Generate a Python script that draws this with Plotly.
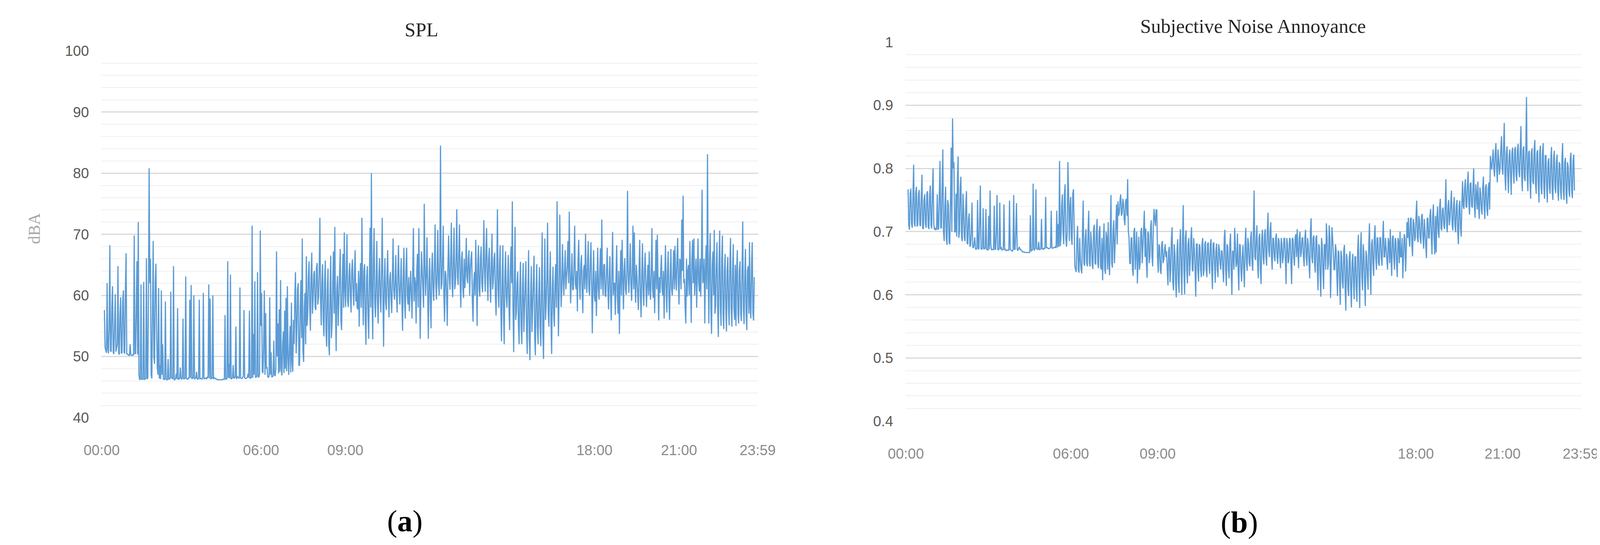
import plotly.graph_objects as go

# ---------------- data ----------------
# SPL in dBA, read every 3 minutes (hh:00, hh:03, ...) ...
spl_night = [  # 00:00 - 05:57
    57.6, 51.0, 62.0, 50.5, 68.2, 50.8, 61.5, 50.4, 60.2, 51.5, 64.8, 50.3, 59.7, 50.6, 60.8, 50.5, 66.9, 50.4, 50.2, 52.0,
    50.2, 50.3, 69.8, 50.5, 65.6, 72.0, 46.2, 61.8, 46.3, 62.2, 46.3, 66.1, 46.5, 80.8, 66.0, 46.4, 68.9, 48.8, 65.2, 48.3,
    61.2, 48.6, 60.8, 52.0, 46.3, 59.0, 46.2, 49.6, 46.3, 60.6, 46.5, 64.8, 46.2, 47.2, 57.9, 46.4, 48.2, 46.3, 56.2, 46.4,
    63.1, 46.3, 46.5, 59.3, 61.7, 46.6, 60.0, 46.4, 47.5, 46.3, 59.3, 46.4, 46.3, 60.4, 46.4, 46.5, 46.7, 61.8, 59.5, 46.5,
    60.0, 46.6, 46.4, 46.3, 46.2, 46.2, 46.2, 46.2, 46.3, 56.8, 46.3, 65.6, 48.8, 63.4, 46.4, 48.6, 46.6, 54.9, 46.8, 46.5,
    61.3, 46.4, 46.6, 57.6, 46.4, 46.5, 47.2, 57.5, 46.5, 71.4, 53.7, 62.3, 46.6, 63.8, 46.6, 70.6, 60.4, 47.3, 60.8, 57.1,
]
spl_morning = [  # 06:00 - 11:57
    48.3, 46.6, 59.7, 50.7, 46.7, 52.6, 46.8, 67.2, 55.4, 57.7, 62.5, 46.9, 54.1, 57.5, 59.6, 61.5, 47.0, 55.0, 58.8, 47.5,
    52.0, 63.8, 54.1, 62.0, 48.6, 62.5, 69.3, 49.1, 60.4, 66.4, 56.7, 65.6, 54.2, 67.0, 59.1, 64.0, 57.6, 65.3, 59.7, 72.7,
    55.1, 65.1, 53.3, 65.7, 51.6, 64.4, 50.2, 66.5, 55.4, 67.2, 71.2, 50.9, 63.2, 58.8, 67.6, 54.3, 66.8, 70.3, 58.1, 70.0,
    58.1, 65.3, 57.2, 65.9, 58.3, 67.4, 62.0, 57.7, 54.9, 65.3, 72.7, 55.1, 65.1, 51.9, 64.8, 52.9, 71.1, 80.0, 52.8, 71.0,
    56.4, 68.9, 55.4, 66.1, 57.2, 72.7, 51.6, 66.1, 57.6, 67.4, 56.4, 63.8, 57.1, 69.3, 59.3, 66.6, 57.2, 68.2, 58.5, 66.1,
    54.2, 67.8, 56.2, 67.8, 58.5, 57.4, 64.0, 56.2, 71.0, 63.0, 55.4, 66.8, 71.0, 52.9, 67.2, 60.6, 75.0, 60.0, 69.5, 52.9,
]
spl_afternoon = [  # 12:00 - 17:57
    66.1, 54.6, 67.0, 59.1, 71.6, 59.3, 70.7, 60.0, 84.5, 62.0, 71.4, 55.7, 63.5, 55.0, 69.8, 60.9, 71.9, 59.7, 71.1, 62.0,
    74.1, 61.7, 71.6, 58.0, 67.2, 59.6, 61.2, 69.4, 62.0, 67.4, 64.0, 67.2, 55.7, 63.8, 69.1, 55.0, 68.2, 59.8, 68.0, 60.5,
    72.3, 60.6, 71.0, 59.1, 67.8, 58.8, 70.1, 62.5, 67.0, 56.7, 74.1, 58.0, 68.2, 52.5, 68.2, 52.0, 67.2, 58.0, 66.6, 54.3,
    68.0, 75.4, 50.7, 71.2, 57.2, 63.9, 52.0, 65.5, 52.0, 65.3, 58.0, 65.6, 50.4, 67.4, 49.4, 64.8, 58.3, 66.5, 50.2, 65.1,
    52.0, 64.6, 51.7, 70.3, 49.6, 69.3, 58.5, 71.9, 54.9, 67.2, 50.4, 64.7, 54.9, 65.1, 75.4, 53.3, 73.2, 58.1, 68.4, 60.0,
    67.4, 63.0, 68.9, 73.7, 58.7, 66.9, 60.9, 71.4, 61.0, 57.4, 69.1, 59.3, 66.6, 57.1, 65.0, 70.1, 60.4, 68.9, 60.0, 68.7,
]
spl_evening = [  # 18:00 - 23:57
    53.8, 67.4, 59.0, 56.6, 67.8, 59.3, 67.7, 72.4, 60.0, 65.1, 59.8, 67.8, 57.7, 66.4, 55.9, 70.4, 62.0, 56.8, 68.2, 57.0,
    53.7, 67.4, 69.1, 57.7, 66.1, 60.1, 77.1, 60.4, 68.5, 59.1, 71.4, 70.3, 58.8, 63.0, 57.6, 69.1, 56.4, 68.5, 58.3, 67.0,
    58.1, 65.0, 67.2, 59.3, 71.0, 59.6, 57.1, 69.1, 69.9, 55.9, 60.4, 66.6, 60.0, 56.2, 68.2, 57.2, 67.2, 56.0, 67.6, 60.0,
    67.4, 68.1, 60.8, 69.4, 58.5, 65.6, 72.4, 76.3, 62.7, 55.4, 59.8, 65.0, 68.9, 55.5, 69.1, 69.3, 63.5, 58.0, 69.3, 60.6,
    59.8, 77.3, 62.7, 55.4, 68.2, 83.1, 55.4, 70.2, 53.7, 67.2, 70.7, 58.3, 68.7, 53.2, 70.6, 55.0, 69.8, 54.5, 66.8, 54.1,
    66.3, 55.1, 69.4, 54.9, 68.4, 56.0, 55.0, 67.4, 55.4, 65.6, 55.8, 72.1, 55.3, 67.6, 54.3, 64.8, 68.7, 56.2, 68.7, 55.9,
]
# ... and in between, at the half-way minutes (hh:01.5, hh:04.5, ...)
spl_night_half = [
    51.5, 50.6, 51.2, 55.0, 50.9, 58.0, 50.7, 56.0, 50.8, 52.0, 50.6, 57.0, 50.5, 59.0, 50.7, 61.0, 50.4, 50.3, 50.2, 50.3,
    50.2, 50.2, 50.4, 58.0, 50.3, 47.0, 46.3, 46.2, 46.3, 46.2, 46.4, 46.3, 60.0, 62.0, 47.0, 60.0, 50.0, 62.0, 55.0, 47.0,
    46.4, 46.3, 47.0, 46.3, 46.2, 46.3, 46.2, 46.3, 46.4, 46.5, 46.3, 46.2, 46.4, 46.3, 46.2, 46.3, 46.5, 46.4, 46.3, 46.4,
    46.4, 46.3, 46.4, 46.5, 46.3, 46.4, 46.3, 46.5, 46.3, 46.4, 46.3, 46.4, 46.5, 46.3, 46.4, 46.3, 46.5, 46.4, 46.3, 46.4,
    46.3, 46.4, 46.3, 46.2, 46.2, 46.2, 46.2, 46.3, 46.2, 46.3, 46.4, 46.5, 46.4, 46.3, 46.5, 46.4, 46.5, 46.3, 46.6, 46.4,
    46.5, 46.4, 46.7, 46.5, 46.4, 46.6, 46.5, 46.4, 46.6, 46.5, 47.0, 46.6, 46.8, 46.7, 47.2, 55.0, 47.5, 52.0, 47.0, 48.0,
]
spl_morning_half = [
    46.7, 46.8, 47.0, 46.7, 46.8, 47.0, 48.0, 50.0, 47.2, 47.5, 48.0, 52.0, 47.3, 48.0, 47.6, 50.0, 52.0, 47.4, 49.0, 56.0,
    60.0, 50.5, 61.0, 48.5, 58.0, 53.0, 51.0, 58.0, 52.0, 55.0, 63.0, 58.0, 63.0, 57.0, 63.5, 58.0, 64.5, 58.5, 64.0, 59.5,
    62.0, 56.0, 62.5, 54.0, 61.0, 52.0, 60.5, 53.0, 62.0, 57.0, 58.0, 61.0, 55.0, 63.0, 56.0, 62.0, 58.0, 61.0, 64.0, 59.0,
    63.0, 60.0, 64.0, 61.0, 63.5, 59.0, 58.0, 64.0, 62.0, 58.0, 62.0, 64.0, 56.0, 63.0, 57.0, 62.0, 58.0, 60.0, 66.0, 59.0,
    62.0, 59.0, 63.0, 60.0, 64.0, 60.0, 62.0, 59.0, 63.0, 60.0, 62.5, 59.5, 63.0, 61.0, 62.0, 60.0, 63.5, 61.0, 62.0, 59.0,
    63.0, 59.0, 64.0, 60.0, 63.0, 61.0, 60.0, 64.0, 59.0, 62.0, 64.0, 58.0, 63.0, 60.0, 64.0, 58.0, 65.0, 63.0, 60.0, 62.0,
]
spl_afternoon_half = [
    59.0, 64.0, 61.0, 65.0, 62.0, 64.0, 62.0, 66.0, 61.0, 66.0, 60.0, 64.0, 60.0, 65.0, 63.0, 66.0, 62.0, 66.0, 61.0, 66.0,
    63.0, 67.0, 62.0, 66.0, 61.0, 66.0, 64.0, 63.0, 66.0, 60.0, 66.0, 59.0, 62.0, 60.0, 63.0, 65.0, 61.0, 66.0, 62.0, 65.0,
    64.0, 67.0, 63.0, 66.0, 62.0, 65.0, 61.0, 66.0, 60.0, 64.0, 61.0, 65.0, 58.0, 62.0, 57.0, 63.0, 60.0, 62.0, 58.0, 64.0,
    62.0, 58.0, 62.0, 56.0, 62.0, 55.0, 61.0, 55.0, 61.0, 54.0, 62.0, 54.0, 60.0, 53.0, 60.0, 54.0, 61.0, 53.0, 60.0, 55.0,
    60.0, 55.0, 61.0, 54.0, 60.0, 56.0, 63.0, 57.0, 62.0, 56.0, 61.0, 57.0, 62.0, 58.0, 63.0, 60.0, 64.0, 61.0, 63.0, 64.0,
    61.0, 65.0, 62.0, 64.0, 63.0, 61.0, 65.0, 62.0, 64.0, 66.0, 62.0, 65.0, 61.0, 64.0, 61.0, 63.0, 65.0, 61.0, 65.0, 62.0,
]
spl_evening_half = [
    62.0, 60.0, 64.0, 62.0, 61.0, 64.0, 61.0, 63.0, 65.0, 60.0, 64.0, 61.0, 63.0, 60.0, 64.0, 60.0, 62.0, 63.0, 60.0, 64.0,
    62.0, 60.0, 63.0, 64.0, 61.0, 64.0, 63.0, 64.0, 62.0, 64.0, 61.0, 62.0, 65.0, 60.0, 64.0, 60.0, 63.0, 61.0, 64.0, 62.0,
    62.0, 60.0, 61.0, 64.0, 61.0, 64.0, 63.0, 61.0, 62.0, 63.0, 64.0, 61.0, 64.0, 63.0, 61.0, 64.0, 60.0, 63.0, 61.0, 63.0,
    61.0, 63.0, 66.0, 62.0, 66.0, 61.0, 64.0, 62.0, 58.0, 66.0, 64.0, 60.0, 62.0, 66.0, 62.0, 60.0, 66.0, 65.0, 62.0, 66.0,
    65.0, 62.0, 66.0, 64.0, 61.0, 64.0, 66.0, 58.0, 65.0, 60.0, 57.0, 65.0, 58.0, 65.0, 58.0, 66.0, 57.0, 64.0, 58.0, 64.0,
    58.0, 65.0, 58.0, 64.0, 58.0, 65.0, 64.0, 57.0, 64.0, 57.0, 64.0, 58.0, 63.0, 57.0, 64.0, 57.0, 58.0, 65.0, 57.0, 63.0,
]

# Subjective noise annoyance, read every 3 minutes ...
ann_night = [
    0.767, 0.703, 0.768, 0.706, 0.806, 0.708, 0.771, 0.712, 0.766, 0.709, 0.790, 0.704, 0.759, 0.706, 0.764, 0.704, 0.773, 0.705, 0.800, 0.703,
    0.703, 0.759, 0.705, 0.812, 0.706, 0.830, 0.685, 0.771, 0.679, 0.743, 0.680, 0.833, 0.879, 0.810, 0.699, 0.692, 0.819, 0.700, 0.787, 0.685,
    0.734, 0.685, 0.764, 0.680, 0.729, 0.679, 0.746, 0.674, 0.691, 0.672, 0.750, 0.673, 0.773, 0.672, 0.737, 0.674, 0.736, 0.671, 0.725, 0.765,
    0.671, 0.672, 0.741, 0.672, 0.758, 0.671, 0.746, 0.676, 0.671, 0.743, 0.672, 0.670, 0.671, 0.749, 0.671, 0.669, 0.758, 0.672, 0.745, 0.670,
    0.676, 0.672, 0.669, 0.668, 0.667, 0.667, 0.667, 0.667, 0.726, 0.670, 0.776, 0.671, 0.767, 0.672, 0.684, 0.672, 0.720, 0.673, 0.674, 0.755,
    0.675, 0.673, 0.674, 0.733, 0.674, 0.675, 0.676, 0.733, 0.712, 0.812, 0.690, 0.759, 0.680, 0.775, 0.676, 0.810, 0.685, 0.755, 0.679, 0.767,
]
ann_morning = [
    0.646, 0.636, 0.709, 0.635, 0.655, 0.634, 0.749, 0.646, 0.704, 0.645, 0.733, 0.645, 0.682, 0.641, 0.711, 0.648, 0.720, 0.642, 0.709, 0.640,
    0.623, 0.713, 0.633, 0.690, 0.715, 0.631, 0.758, 0.643, 0.718, 0.679, 0.743, 0.748, 0.730, 0.759, 0.729, 0.745, 0.710, 0.752, 0.783, 0.690,
    0.649, 0.690, 0.630, 0.706, 0.672, 0.618, 0.692, 0.650, 0.706, 0.679, 0.733, 0.705, 0.627, 0.697, 0.660, 0.718, 0.645, 0.736, 0.709, 0.734,
    0.635, 0.676, 0.633, 0.685, 0.655, 0.680, 0.669, 0.615, 0.676, 0.640, 0.707, 0.607, 0.665, 0.596, 0.688, 0.603, 0.704, 0.600, 0.742, 0.601,
    0.702, 0.618, 0.690, 0.651, 0.707, 0.637, 0.672, 0.597, 0.681, 0.621, 0.677, 0.628, 0.690, 0.640, 0.685, 0.628, 0.683, 0.633, 0.688, 0.609,
    0.683, 0.619, 0.681, 0.628, 0.672, 0.640, 0.669, 0.620, 0.703, 0.614, 0.676, 0.626, 0.697, 0.600, 0.667, 0.706, 0.644, 0.697, 0.607, 0.679,
]
ann_afternoon = [
    0.621, 0.679, 0.612, 0.706, 0.638, 0.681, 0.645, 0.700, 0.638, 0.765, 0.655, 0.710, 0.626, 0.697, 0.617, 0.703, 0.648, 0.704, 0.646, 0.730,
    0.660, 0.715, 0.640, 0.689, 0.653, 0.697, 0.649, 0.685, 0.642, 0.681, 0.660, 0.689, 0.617, 0.681, 0.655, 0.688, 0.617, 0.688, 0.646, 0.696,
    0.704, 0.642, 0.700, 0.667, 0.690, 0.645, 0.703, 0.646, 0.679, 0.626, 0.721, 0.650, 0.694, 0.635, 0.694, 0.607, 0.676, 0.597, 0.679, 0.609,
    0.679, 0.713, 0.640, 0.710, 0.595, 0.707, 0.669, 0.640, 0.671, 0.598, 0.667, 0.584, 0.660, 0.610, 0.679, 0.575, 0.655, 0.598, 0.669, 0.580,
    0.665, 0.593, 0.660, 0.589, 0.695, 0.579, 0.699, 0.607, 0.666, 0.582, 0.662, 0.608, 0.713, 0.600, 0.688, 0.630, 0.710, 0.640, 0.690, 0.646,
    0.691, 0.646, 0.717, 0.660, 0.674, 0.640, 0.683, 0.704, 0.630, 0.694, 0.640, 0.685, 0.628, 0.685, 0.700, 0.660, 0.626, 0.696, 0.637, 0.715,
]
ann_evening = [
    0.722, 0.676, 0.722, 0.661, 0.713, 0.690, 0.749, 0.683, 0.718, 0.681, 0.728, 0.673, 0.700, 0.658, 0.722, 0.690, 0.736, 0.664, 0.743, 0.664,
    0.667, 0.740, 0.690, 0.752, 0.702, 0.738, 0.704, 0.783, 0.699, 0.750, 0.722, 0.765, 0.702, 0.755, 0.699, 0.750, 0.680, 0.749, 0.692, 0.780,
    0.736, 0.783, 0.738, 0.795, 0.727, 0.778, 0.738, 0.800, 0.722, 0.759, 0.779, 0.720, 0.761, 0.727, 0.787, 0.720, 0.775, 0.725, 0.778, 0.820,
    0.798, 0.830, 0.787, 0.840, 0.778, 0.814, 0.800, 0.851, 0.790, 0.872, 0.765, 0.835, 0.761, 0.830, 0.758, 0.833, 0.776, 0.834, 0.780, 0.839,
    0.786, 0.867, 0.764, 0.835, 0.780, 0.913, 0.764, 0.828, 0.752, 0.832, 0.775, 0.845, 0.760, 0.829, 0.746, 0.836, 0.759, 0.840, 0.752, 0.821,
    0.746, 0.816, 0.760, 0.834, 0.750, 0.828, 0.761, 0.822, 0.749, 0.807, 0.751, 0.840, 0.750, 0.817, 0.744, 0.803, 0.755, 0.825, 0.753, 0.822,
]
# ... and at the half-way minutes
ann_night_half = [
    0.710, 0.760, 0.712, 0.765, 0.714, 0.762, 0.708, 0.760, 0.710, 0.755, 0.706, 0.750, 0.712, 0.760, 0.708, 0.758, 0.710, 0.765, 0.712, 0.706,
    0.704, 0.703, 0.760, 0.706, 0.770, 0.700, 0.740, 0.690, 0.750, 0.683, 0.745, 0.700, 0.800, 0.700, 0.760, 0.780, 0.690, 0.770, 0.690, 0.760,
    0.690, 0.740, 0.682, 0.720, 0.676, 0.700, 0.676, 0.680, 0.673, 0.674, 0.672, 0.720, 0.673, 0.674, 0.672, 0.673, 0.672, 0.671, 0.672, 0.680,
    0.672, 0.671, 0.672, 0.700, 0.672, 0.673, 0.672, 0.671, 0.672, 0.671, 0.670, 0.671, 0.670, 0.672, 0.670, 0.671, 0.672, 0.700, 0.672, 0.673,
    0.672, 0.670, 0.668, 0.668, 0.667, 0.667, 0.667, 0.667, 0.669, 0.671, 0.672, 0.674, 0.673, 0.672, 0.671, 0.673, 0.672, 0.672, 0.673, 0.674,
    0.674, 0.673, 0.675, 0.674, 0.674, 0.675, 0.674, 0.675, 0.676, 0.677, 0.740, 0.700, 0.760, 0.690, 0.700, 0.760, 0.740, 0.690, 0.760, 0.700,
]
ann_morning_half = [
    0.640, 0.690, 0.640, 0.690, 0.640, 0.700, 0.650, 0.690, 0.650, 0.700, 0.650, 0.700, 0.648, 0.705, 0.650, 0.700, 0.650, 0.700, 0.645, 0.690,
    0.680, 0.640, 0.700, 0.640, 0.650, 0.700, 0.650, 0.700, 0.650, 0.720, 0.680, 0.725, 0.750, 0.725, 0.752, 0.720, 0.748, 0.725, 0.700, 0.650,
    0.690, 0.640, 0.700, 0.640, 0.700, 0.650, 0.640, 0.700, 0.650, 0.710, 0.660, 0.650, 0.700, 0.650, 0.705, 0.660, 0.710, 0.720, 0.735, 0.660,
    0.680, 0.640, 0.680, 0.650, 0.670, 0.660, 0.640, 0.670, 0.620, 0.690, 0.620, 0.680, 0.620, 0.670, 0.620, 0.680, 0.640, 0.690, 0.640, 0.690,
    0.640, 0.680, 0.630, 0.690, 0.640, 0.690, 0.640, 0.680, 0.640, 0.680, 0.640, 0.680, 0.630, 0.680, 0.640, 0.680, 0.650, 0.680, 0.640, 0.680,
    0.650, 0.670, 0.640, 0.680, 0.650, 0.670, 0.640, 0.690, 0.640, 0.680, 0.640, 0.680, 0.640, 0.670, 0.640, 0.680, 0.650, 0.640, 0.680, 0.640,
]
ann_afternoon_half = [
    0.660, 0.640, 0.680, 0.650, 0.690, 0.650, 0.690, 0.650, 0.700, 0.660, 0.690, 0.650, 0.690, 0.640, 0.690, 0.660, 0.695, 0.660, 0.700, 0.670,
    0.700, 0.660, 0.690, 0.660, 0.690, 0.660, 0.690, 0.660, 0.690, 0.650, 0.690, 0.655, 0.690, 0.650, 0.690, 0.650, 0.690, 0.660, 0.690, 0.660,
    0.670, 0.690, 0.660, 0.690, 0.660, 0.690, 0.660, 0.690, 0.650, 0.700, 0.660, 0.690, 0.650, 0.690, 0.640, 0.680, 0.630, 0.690, 0.640, 0.680,
    0.640, 0.690, 0.650, 0.690, 0.650, 0.690, 0.640, 0.680, 0.630, 0.670, 0.620, 0.670, 0.620, 0.670, 0.610, 0.665, 0.610, 0.660, 0.610, 0.650,
    0.620, 0.660, 0.610, 0.670, 0.620, 0.670, 0.630, 0.680, 0.620, 0.670, 0.630, 0.680, 0.640, 0.680, 0.650, 0.690, 0.660, 0.690, 0.650, 0.690,
    0.660, 0.690, 0.660, 0.690, 0.660, 0.690, 0.650, 0.660, 0.690, 0.660, 0.690, 0.650, 0.690, 0.650, 0.660, 0.690, 0.660, 0.690, 0.670, 0.690,
]
ann_evening_half = [
    0.690, 0.720, 0.680, 0.720, 0.685, 0.725, 0.690, 0.725, 0.690, 0.725, 0.690, 0.720, 0.680, 0.720, 0.690, 0.725, 0.690, 0.725, 0.690, 0.725,
    0.720, 0.700, 0.740, 0.705, 0.735, 0.710, 0.740, 0.710, 0.740, 0.710, 0.745, 0.710, 0.740, 0.710, 0.740, 0.700, 0.740, 0.705, 0.745, 0.740,
    0.770, 0.740, 0.775, 0.745, 0.775, 0.740, 0.770, 0.740, 0.775, 0.735, 0.740, 0.770, 0.735, 0.770, 0.740, 0.770, 0.735, 0.770, 0.735, 0.805,
    0.815, 0.800, 0.825, 0.800, 0.830, 0.790, 0.830, 0.800, 0.835, 0.790, 0.825, 0.790, 0.820, 0.790, 0.825, 0.795, 0.830, 0.790, 0.830, 0.795,
    0.830, 0.790, 0.830, 0.785, 0.830, 0.790, 0.825, 0.780, 0.825, 0.780, 0.830, 0.775, 0.825, 0.775, 0.825, 0.770, 0.825, 0.770, 0.820, 0.770,
    0.810, 0.770, 0.815, 0.765, 0.815, 0.770, 0.810, 0.765, 0.810, 0.765, 0.815, 0.765, 0.810, 0.760, 0.810, 0.765, 0.815, 0.765, 0.812, 0.765,
]

x_tick_labels = ["00:00", "06:00", "09:00", "18:00", "21:00", "23:59"]
spl_tick_hours = [-0.1, 5.78, 8.89, 18.08, 21.2, 24.1]
ann_tick_hours = [-0.08, 5.86, 8.98, 18.27, 21.39, 24.2]
spl_y_ticks = [40, 50, 60, 70, 80, 90, 100]
ann_y_ticks = [0.4, 0.5, 0.6, 0.7, 0.8, 0.9, 1.0]
ann_y_labels = ["0.4", "0.5", "0.6", "0.7", "0.8", "0.9", "1"]

sample_minutes = 1.5

# ---------------- build ----------------
def merge(on_mark, half):
    out = []
    for a, b in zip(on_mark, half):
        out.extend([a, b])
    return out

spl = merge(spl_night + spl_morning + spl_afternoon + spl_evening,
            spl_night_half + spl_morning_half + spl_afternoon_half + spl_evening_half)
ann = merge(ann_night + ann_morning + ann_afternoon + ann_evening,
            ann_night_half + ann_morning_half + ann_afternoon_half + ann_evening_half)
hours = [i * sample_minutes / 60 for i in range(len(spl))]

LINE = "#5B9BD5"
MAJOR = "#d9d9d9"
MINOR = "#efefef"
SANS = "Liberation Sans"
SERIF = "Liberation Serif"

fig = go.Figure()
fig.add_trace(go.Scatter(x=hours, y=spl, mode="lines", line=dict(color=LINE, width=3),
                         xaxis="x", yaxis="y", showlegend=False, hoverinfo="skip"))
fig.add_trace(go.Scatter(x=hours, y=ann, mode="lines", line=dict(color=LINE, width=3),
                         xaxis="x2", yaxis="y2", showlegend=False, hoverinfo="skip"))

xcommon = dict(showgrid=False, zeroline=False, showline=False, ticks="",
               tickfont=dict(family=SANS, size=37, color="#8c8c8c"),
               tickmode="array", ticktext=x_tick_labels, ticklabelstandoff=58)
ycommon = dict(showgrid=True, gridcolor=MAJOR, gridwidth=3, zeroline=False, showline=False,
               ticks="", tickfont=dict(family=SANS, size=37, color="#595959"),
               tickmode="array", ticklabelstandoff=30)

fig.update_layout(
    width=4144, height=1395,
    margin=dict(l=0, r=0, t=0, b=0),
    paper_bgcolor="white", plot_bgcolor="white",
    xaxis=dict(domain=[0.0508, 0.4657], range=[-0.12, 24.12], tickvals=spl_tick_hours,
               anchor="y", **xcommon),
    yaxis=dict(domain=[0.2312, 0.9244], range=[40, 100], tickvals=spl_y_ticks,
               minor=dict(dtick=2, showgrid=True, gridcolor=MINOR, gridwidth=2, ticks=""),
               anchor="x", **ycommon),
    xaxis2=dict(domain=[0.5586, 0.9858], range=[-0.1, 24.24], tickvals=ann_tick_hours,
                anchor="y2", **xcommon),
    yaxis2=dict(domain=[0.2244, 0.9412], range=[0.4, 1.0], tickvals=ann_y_ticks,
                ticktext=ann_y_labels,
                minor=dict(dtick=0.02, showgrid=True, gridcolor=MINOR, gridwidth=2, ticks=""),
                anchor="x2", **ycommon),
    annotations=[
        dict(text="SPL", xref="paper", yref="paper", x=0.2531, y=0.9642,
             xanchor="center", yanchor="middle", showarrow=False,
             font=dict(family=SERIF, size=50, color="#262626")),
        dict(text="Subjective Noise Annoyance", xref="paper", yref="paper", x=0.7782, y=0.9713,
             xanchor="center", yanchor="middle", showarrow=False,
             font=dict(family=SERIF, size=50, color="#262626")),
        dict(text="dBA", xref="paper", yref="paper", x=0.0087, y=0.589, textangle=-90,
             xanchor="center", yanchor="middle", showarrow=False,
             font=dict(family=SERIF, size=42, color="#a6a6a6")),
        dict(text="(<b>a</b>)", xref="paper", yref="paper", x=0.2425, y=0.0358,
             xanchor="center", yanchor="middle", showarrow=False,
             font=dict(family=SERIF, size=78, color="black")),
        dict(text="(<b>b</b>)", xref="paper", yref="paper", x=0.7695, y=0.0337,
             xanchor="center", yanchor="middle", showarrow=False,
             font=dict(family=SERIF, size=78, color="black")),
    ],
)

fig.write_html("out.html")
